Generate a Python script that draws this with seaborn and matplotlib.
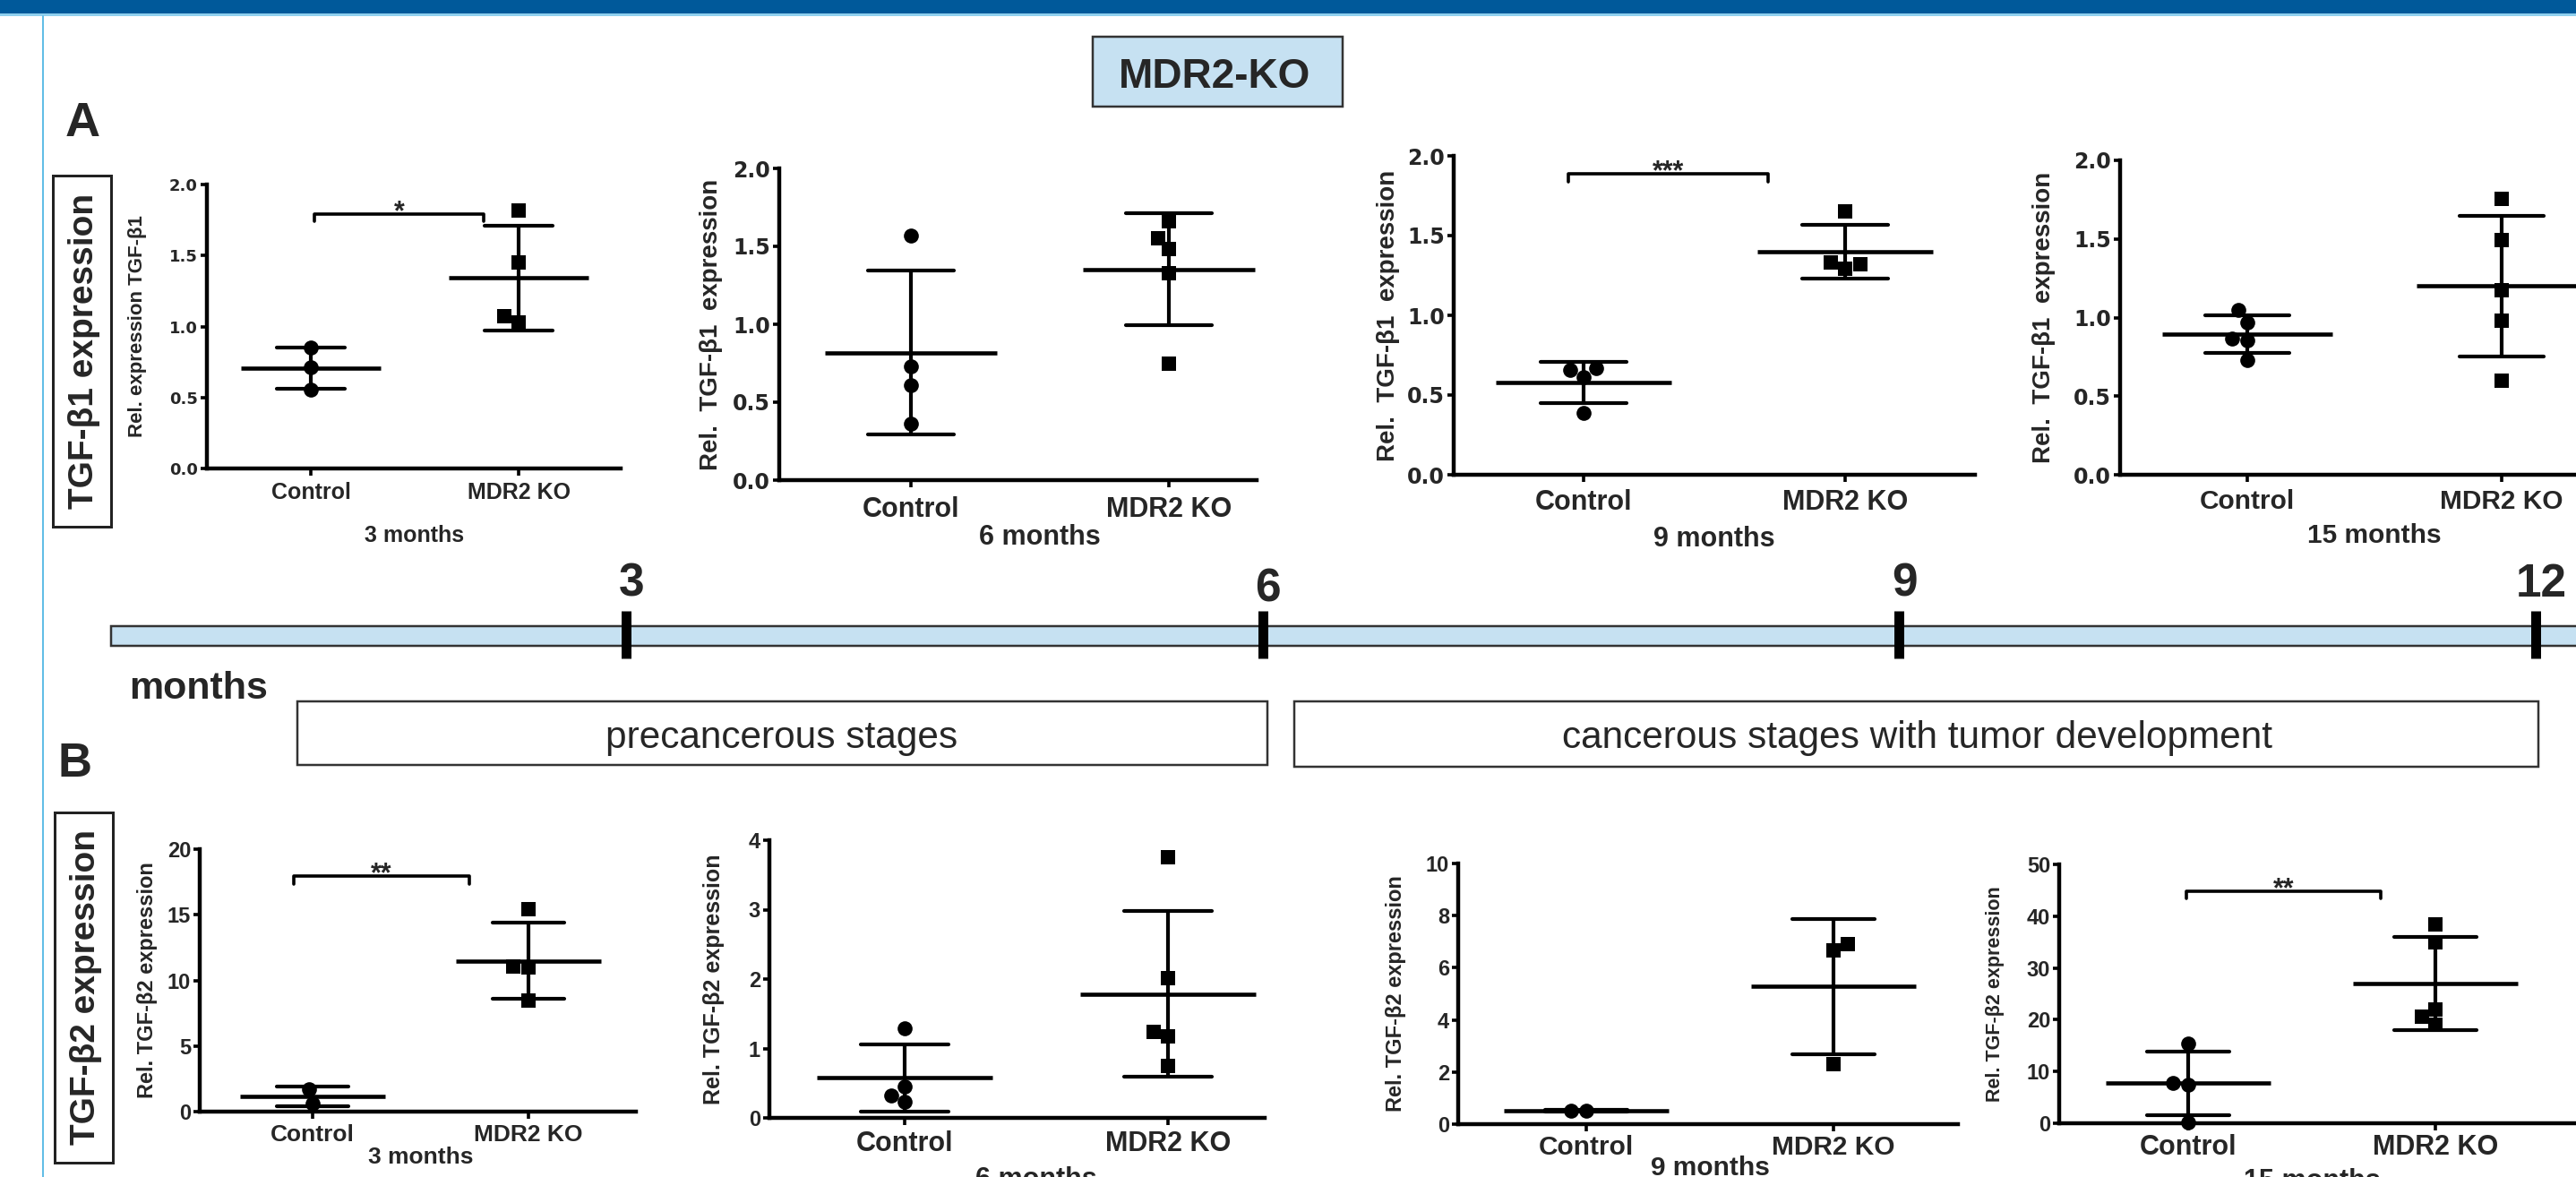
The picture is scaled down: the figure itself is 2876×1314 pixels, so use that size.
import numpy as np
import pandas as pd
import matplotlib
matplotlib.use("Agg")
import matplotlib.pyplot as plt
import seaborn as sns
from matplotlib.patches import Rectangle
from matplotlib.ticker import FormatStrFormatter

# ---------------- data ----------------
groups = ["Control", "MDR2 KO"]
timepoints = ["3 months", "6 months", "9 months", "15 months"]
timeline_months = [3, 6, 9, 12]

# A: TGF-beta1 relative expression
a_3m_control = [0.85, 0.715, 0.555]
a_3m_ko = [1.82, 1.45, 1.07, 1.03]
a_6m_control = [1.57, 0.73, 0.61, 0.36]
a_6m_ko = [1.66, 1.55, 1.48, 1.33, 0.745]
a_9m_control = [0.655, 0.667, 0.611, 0.389]
a_9m_ko = [1.651, 1.333, 1.322, 1.293]
a_15m_control = [1.047, 0.968, 0.867, 0.856, 0.732]
a_15m_ko = [1.757, 1.491, 1.176, 0.98, 0.597]

# B: TGF-beta2 relative expression
b_3m_control = [1.71, 0.61]
b_3m_ko = [15.44, 11.04, 11.0, 8.48]
b_6m_control = [1.293, 0.457, 0.328, 0.228]
b_6m_ko = [3.754, 2.017, 1.241, 1.168, 0.746]
b_9m_control = [0.50, 0.53]
b_9m_ko = [6.9, 6.65, 2.29]
b_15m_control = [15.4, 7.73, 7.5, 0.23]
b_15m_ko = [38.47, 35.0, 22.03, 20.59, 19.03]

# significance brackets: (left, right, height, drop, label)
sig_a_3m = (0.017, 0.832, 1.79, 0.05, "*")
sig_a_9m = (-0.058, 0.705, 1.889, 0.051, "***")
sig_b_3m = (-0.087, 0.726, 17.94, 0.57, "**")
sig_b_15m = (-0.007, 0.779, 44.8, 1.3, "**")

# ---------------- style ----------------
sns.set_style("ticks")
plt.rcParams["font.family"] = ["Liberation Sans", "DejaVu Sans"]

W, H = 2876, 1314
DPI = 100
PT = 72.0 / DPI
fig = plt.figure(figsize=(W / DPI, H / DPI), dpi=DPI)
fig.patch.set_facecolor("white")

LIGHT = "#c6e1f2"

# overlay in pixel coordinates
ov = fig.add_axes([0, 0, 1, 1])
ov.set_xlim(0, W)
ov.set_ylim(H, 0)
ov.axis("off")
ov.add_patch(Rectangle((0, 0), W, 15, color="#00599a", lw=0))
ov.add_patch(Rectangle((0, 15), W, 3, color="#8fd0ee", lw=0))
ov.plot([48, 48], [18, H], color="#62bde6", lw=2 * PT)


def box(x0, y0, x1, y1, fc, ec, lw):
    ov.add_patch(Rectangle((x0, y0), x1 - x0, y1 - y0, facecolor=fc,
                           edgecolor=ec, lw=lw * PT))


box(1220, 41, 1499, 119, LIGHT, "#333333", 2.5)
ov.text(1356, 98, "MDR2-KO", ha="center", va="baseline", fontsize=33, weight="bold")
ov.text(73, 152, "A", ha="left", va="baseline", fontsize=39, weight="bold")
ov.text(64, 867, "B", ha="left", va="baseline", fontsize=38, weight="bold")
box(59, 196, 124, 588, "white", "#222222", 3)
ov.text(94, 392, "TGF-β1 expression", rotation=90, ha="center", va="center",
        fontsize=28, weight="bold")
box(61, 907, 126, 1298, "white", "#222222", 3)
ov.text(96, 1102, "TGF-β2 expression", rotation=90, ha="center", va="center",
        fontsize=28, weight="bold")
ov.text(144, 780, "months", ha="left", va="baseline", fontsize=31, weight="bold")
box(332, 783, 1415, 854, "white", "#333333", 2.5)
ov.text(873, 835, "precancerous stages", ha="center", va="baseline", fontsize=30.5)
box(1445, 783, 2834, 856, "white", "#333333", 2.5)
ov.text(2140, 835, "cancerous stages with tumor development", ha="center",
        va="baseline", fontsize=30.5)

# timeline axis (months)
px3, px12 = 699, 2831
ppm = (px12 - px3) / 9.0
m_left = 3 - px3 / ppm
m_right = 3 + (W - px3) / ppm
tl = fig.add_axes([0, 1 - 760 / H, 1, (760 - 600) / H])
tl.set_xlim(m_left, m_right)
tl.set_ylim(760, 600)
tl.axis("off")
bar_start = 3 + (124 - px3) / ppm
tl.barh(710, m_right - bar_start + 1, left=bar_start, height=22, color=LIGHT,
        edgecolor="#333333", linewidth=2.5 * PT)
tl.vlines(timeline_months, 682, 735, color="black", linewidth=11 * PT)
label_drop = {3: 0, 6: 5, 9: 0, 12: 0}
for m in timeline_months:
    tl.text(m + 0.025, 666 + label_drop[m], str(m), ha="center", va="baseline",
            fontsize=37, weight="bold")

# ---------------- panels ----------------
panels = [
    dict(ctrl=a_3m_control, ko=a_3m_ko, time=timepoints[0], ymax=2.0, step=0.5, fmt="%.1f",
         ylabel="Rel. expression TGF-β1", box=(231, 347, 579, 693, 523, 206),
         tick_fs=13, tick_fam="DejaVu Sans", cat_fs=18, ylab_fs=16, ylab_dx=77,
         xlab_c=73, cat_c=24, sig=sig_a_3m),
    dict(ctrl=a_6m_control, ko=a_6m_ko, time=timepoints[1], ymax=2.0, step=0.5, fmt="%.1f",
         ylabel="Rel.  TGF-β1  expression", box=(870, 1017, 1305, 1403, 536, 188),
         tick_fs=17, tick_fam="DejaVu Sans", cat_fs=22, ylab_fs=20, ylab_dx=76,
         xlab_c=61, cat_c=29, sig=None),
    dict(ctrl=a_9m_control, ko=a_9m_ko, time=timepoints[2], ymax=2.0, step=0.5, fmt="%.1f",
         ylabel="Rel.  TGF-β1  expression", box=(1623, 1768, 2060, 2205, 530, 174),
         tick_fs=17, tick_fam="DejaVu Sans", cat_fs=22, ylab_fs=20, ylab_dx=73,
         xlab_c=69, cat_c=27, sig=sig_a_9m),
    dict(ctrl=a_15m_control, ko=a_15m_ko, time=timepoints[3], ymax=2.0, step=0.5, fmt="%.1f",
         ylabel="Rel.  TGF-β1  expression", box=(2367, 2509, 2793, 2900, 530, 179),
         tick_fs=17, tick_fam="DejaVu Sans", cat_fs=21.5, ylab_fs=20, ylab_dx=85,
         xlab_c=65, cat_c=27, sig=None),
    dict(ctrl=b_3m_control, ko=b_3m_ko, time=timepoints[0], ymax=20, step=5, fmt="%d",
         ylabel="Rel. TGF-β2 expression", box=(223, 349, 590, 710, 1241, 948),
         tick_fs=17, tick_fam="Liberation Sans", cat_fs=19, ylab_fs=17, ylab_dx=58,
         xlab_c=49, cat_c=23, sig=sig_b_3m),
    dict(ctrl=b_6m_control, ko=b_6m_ko, time=timepoints[1], ymax=4, step=1, fmt="%d",
         ylabel="Rel. TGF-β2 expression", box=(859, 1010, 1304, 1412, 1248, 938),
         tick_fs=17, tick_fam="Liberation Sans", cat_fs=22, ylab_fs=18, ylab_dx=62,
         xlab_c=66, cat_c=25, sig=None),
    dict(ctrl=b_9m_control, ko=b_9m_ko, time=timepoints[2], ymax=10, step=2, fmt="%d",
         ylabel="Rel. TGF-β2 expression", box=(1628, 1771, 2047, 2186, 1255, 964),
         tick_fs=17, tick_fam="Liberation Sans", cat_fs=21.5, ylab_fs=17, ylab_dx=69,
         xlab_c=46, cat_c=23, sig=None),
    dict(ctrl=b_15m_control, ko=b_15m_ko, time=timepoints[3], ymax=50, step=10, fmt="%d",
         ylabel="Rel. TGF-β2 expression", box=(2299, 2443, 2719, 2900, 1254, 965),
         tick_fs=17, tick_fam="Liberation Sans", cat_fs=22, ylab_fs=15.5, ylab_dx=71,
         xlab_c=62, cat_c=23, sig=sig_b_15m),
]

for p in panels:
    x0, c, k, x1, y0, yt = p["box"]
    ax = fig.add_axes([x0 / W, 1 - y0 / H, (x1 - x0) / W, (y0 - yt) / H])
    ax.patch.set_alpha(0)
    df = pd.DataFrame({
        "group": [groups[0]] * len(p["ctrl"]) + [groups[1]] * len(p["ko"]),
        "value": list(p["ctrl"]) + list(p["ko"]),
    })
    unit = k - c
    sns.pointplot(data=df, x="group", y="value", order=groups, errorbar="sd",
                  capsize=0.33, color="black", marker="_",
                  markersize=0.67 * unit * PT, markeredgewidth=3.3,
                  linestyle="none", err_kws={"linewidth": 3.0}, ax=ax)
    for grp, mk, sz in zip(groups, ["o", "s"], [12, 12]):
        sns.swarmplot(data=df[df["group"] == grp], x="group", y="value",
                      order=groups, marker=mk, size=sz, color="black",
                      linewidth=0, ax=ax)
    for coll in ax.collections:
        coll.set_clip_on(False)
    for ln in ax.lines:
        ln.set_clip_on(False)

    ax.set_xlim(-(c - x0) / unit, (x1 - c) / unit)
    ax.set_ylim(0, p["ymax"])
    ax.set_yticks(np.arange(0, p["ymax"] + p["step"] / 2, p["step"]))
    ax.yaxis.set_major_formatter(FormatStrFormatter(p["fmt"]))
    sns.despine(ax=ax)
    for s in ["left", "bottom"]:
        ax.spines[s].set_linewidth(3.2)
        ax.spines[s].set_color("black")

    cap = 0.716 * p["cat_fs"] / PT
    pad_px = p["cat_c"] - cap / 2 - 8
    ax.tick_params(axis="x", length=8 * PT, width=2.6, pad=pad_px * PT,
                   labelsize=p["cat_fs"], color="black")
    ax.tick_params(axis="y", length=7 * PT, width=2.6, pad=3 * PT,
                   labelsize=p["tick_fs"], color="black")
    plt.setp(ax.get_xticklabels(), fontweight="bold")
    plt.setp(ax.get_yticklabels(), fontweight="bold", family=p["tick_fam"])

    ax.set_xlabel("")
    ax.set_ylabel(p["ylabel"], fontsize=p["ylab_fs"], weight="bold", va="center")
    ax.yaxis.set_label_coords(-p["ylab_dx"] / (x1 - x0), 0.5)

    ax.annotate(p["time"], xy=(0.5, 0), xycoords="data",
                xytext=(0, -(p["xlab_c"] + cap / 2) * PT), textcoords="offset points",
                ha="center", va="baseline", fontsize=p["cat_fs"], weight="bold",
                annotation_clip=False)

    if p["sig"] is not None:
        xl, xr, yb, drop, lab = p["sig"]
        ax.plot([xl, xl, xr, xr], [yb - drop, yb, yb, yb - drop], color="black",
                lw=2.6, clip_on=False)
        ax.annotate(lab, xy=((xl + xr) / 2, yb), xycoords="data",
                    xytext=(0, -6 * PT), textcoords="offset points", ha="center",
                    va="baseline", fontsize=22, weight="bold", annotation_clip=False)

fig.savefig("out.png", dpi=DPI, facecolor="white")
